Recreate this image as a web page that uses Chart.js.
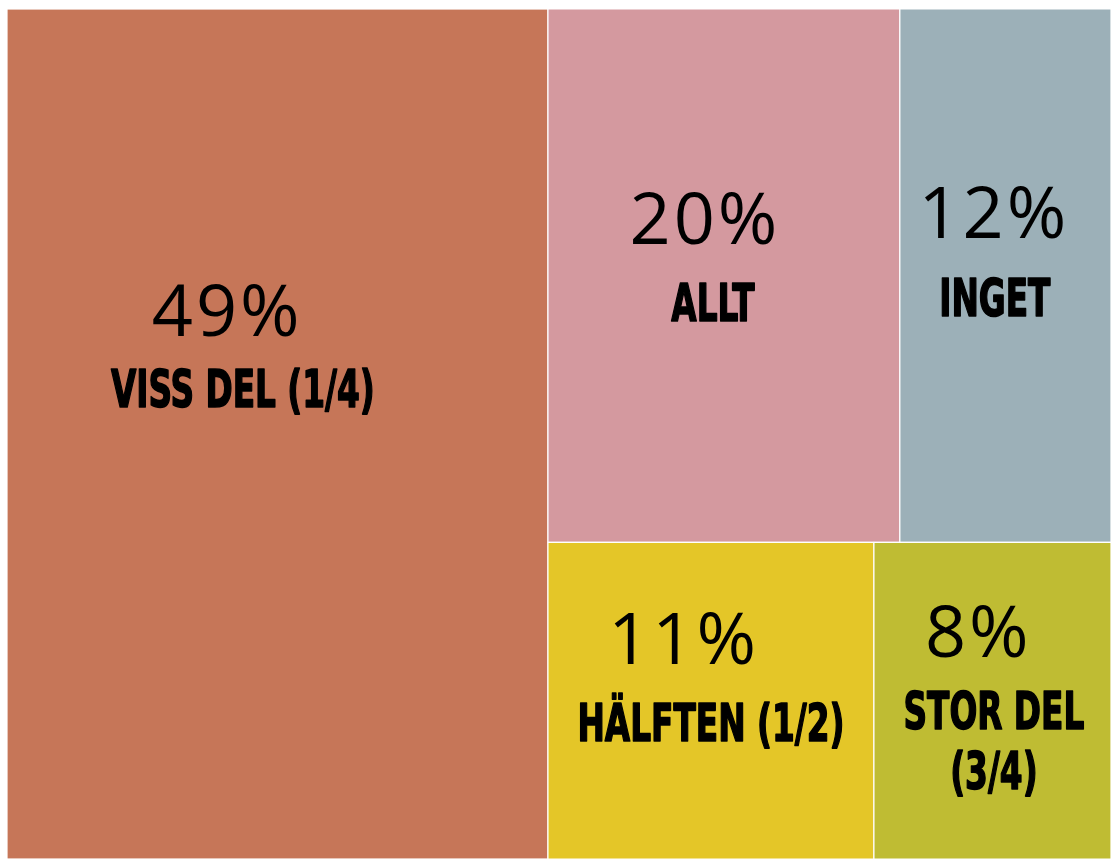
<!DOCTYPE html>
<html>
<head>
<meta charset="utf-8">
<title>Treemap</title>
<script src="https://cdn.jsdelivr.net/npm/chart.js@4/dist/chart.umd.min.js"></script>
<style>
  html, body { margin: 0; padding: 0; background: #fff; }
  #wrap { width: 1111px; height: 859px; position: relative; }
</style>
</head>
<body>
<div id="wrap"><canvas id="treeChart"></canvas></div>
<script>
// Data (share of respondents, %)
const categories = ['VISS DEL (1/4)', 'ALLT', 'INGET', 'HÄLFTEN (1/2)', 'STOR DEL\n(3/4)'];
const shares = [49, 20, 12, 11, 8];
const percentLabels = ['49%', '20%', '12%', '11%', '8%'];
const cellColors = ['#C67658', '#D4999F', '#9CB0B8', '#E4C628', '#BFBC33'];

// first item is a full height column, the rest are stacked rows
const rowGroups = [[1, 2], [3, 4]];

// label anchors as fractions of each cell: [percent x, percent y, name x, name y]
const labelAnchors = [
    [0.407, 0.354, 0.436, 0.446],
    [0.446, 0.393, 0.469, 0.549],
    [0.445, 0.382, 0.45, 0.541],
    [0.416, 0.302, 0.5, 0.569],
    [0.44, 0.28, 0.506, 0.531]
];

function layoutCells(values) {
    const total = values.reduce((a, b) => a + b, 0);
    const cells = [];
    const leftW = values[0] / total * 100;
    cells[0] = { x0: 0, x1: leftW, y0: 0, y1: 100 };
    const rest = total - values[0];
    let y = 0;
    rowGroups.forEach(group => {
        const rowSum = group.reduce((a, i) => a + values[i], 0);
        const h = rowSum / rest * 100;
        let x = leftW;
        group.forEach(i => {
            const w = values[i] / rowSum * (100 - leftW);
            cells[i] = { x0: x, x1: x + w, y0: y, y1: y + h };
            x += w;
        });
        y += h;
    });
    return cells;
}

const cells = layoutCells(shares);

const treemapPlugin = {
    id: 'treemapCells',
    afterDatasetsDraw(chart) {
        const { ctx, scales } = chart;
        const xs = scales.x, ys = scales.y;
        ctx.save();
        cells.forEach((c, i) => {
            const left = xs.getPixelForValue(c.x0);
            const right = xs.getPixelForValue(c.x1);
            const top = ys.getPixelForValue(c.y0);
            const bottom = ys.getPixelForValue(c.y1);
            ctx.fillStyle = cellColors[i];
            ctx.fillRect(left, top, right - left, bottom - top);
            ctx.strokeStyle = '#ffffff';
            ctx.lineWidth = 1.2;
            ctx.strokeRect(left, top, right - left, bottom - top);

            const w = right - left, h = bottom - top;
            const [px, py, nx, ny] = labelAnchors[i];

            // percent, handwritten look
            const pSize = 72;
            ctx.fillStyle = '#000';
            ctx.textAlign = 'center';
            ctx.textBaseline = 'alphabetic';
            ctx.font = '400 ' + pSize + 'px "Open Sans", "DejaVu Sans", sans-serif';
            if ('letterSpacing' in ctx) ctx.letterSpacing = '3px';
            ctx.fillText(percentLabels[i], left + w * px, top + h * py + pSize * 0.357);
            if ('letterSpacing' in ctx) ctx.letterSpacing = '0px';

            // category name, bold condensed
            const nSize = 52;
            ctx.font = 'bold ' + nSize + 'px "Liberation Sans Narrow", "DejaVu Sans Condensed", sans-serif';
            ctx.strokeStyle = '#000';
            ctx.lineWidth = 1.6;
            ctx.lineJoin = 'round';
            const lines = categories[i].split('\n');
            lines.forEach((line, k) => {
                const base = top + h * ny + nSize * 0.36 + k * 60;
                ctx.save();
                ctx.translate(left + w * nx, base);
                ctx.scale(0.7, 1);
                ctx.fillText(line, 0, 0);
                ctx.strokeText(line, 0, 0);
                ctx.restore();
            });
        });
        ctx.restore();
    }
};

new Chart(document.getElementById('treeChart'), {
    type: 'scatter',
    data: {
        datasets: [{
            label: 'Andel',
            data: cells.map(c => ({ x: (c.x0 + c.x1) / 2, y: (c.y0 + c.y1) / 2 })),
            pointRadius: 0
        }]
    },
    options: {
        responsive: true,
        maintainAspectRatio: false,
        animation: false,
        layout: { padding: { left: 7, top: 9, right: 0, bottom: 0 } },
        scales: {
            x: { type: 'linear', min: 0, max: 100, display: false },
            y: { type: 'linear', min: 0, max: 100, reverse: true, display: false }
        },
        plugins: {
            legend: { display: false },
            tooltip: { enabled: false }
        }
    },
    plugins: [treemapPlugin]
});
</script>
</body>
</html>
